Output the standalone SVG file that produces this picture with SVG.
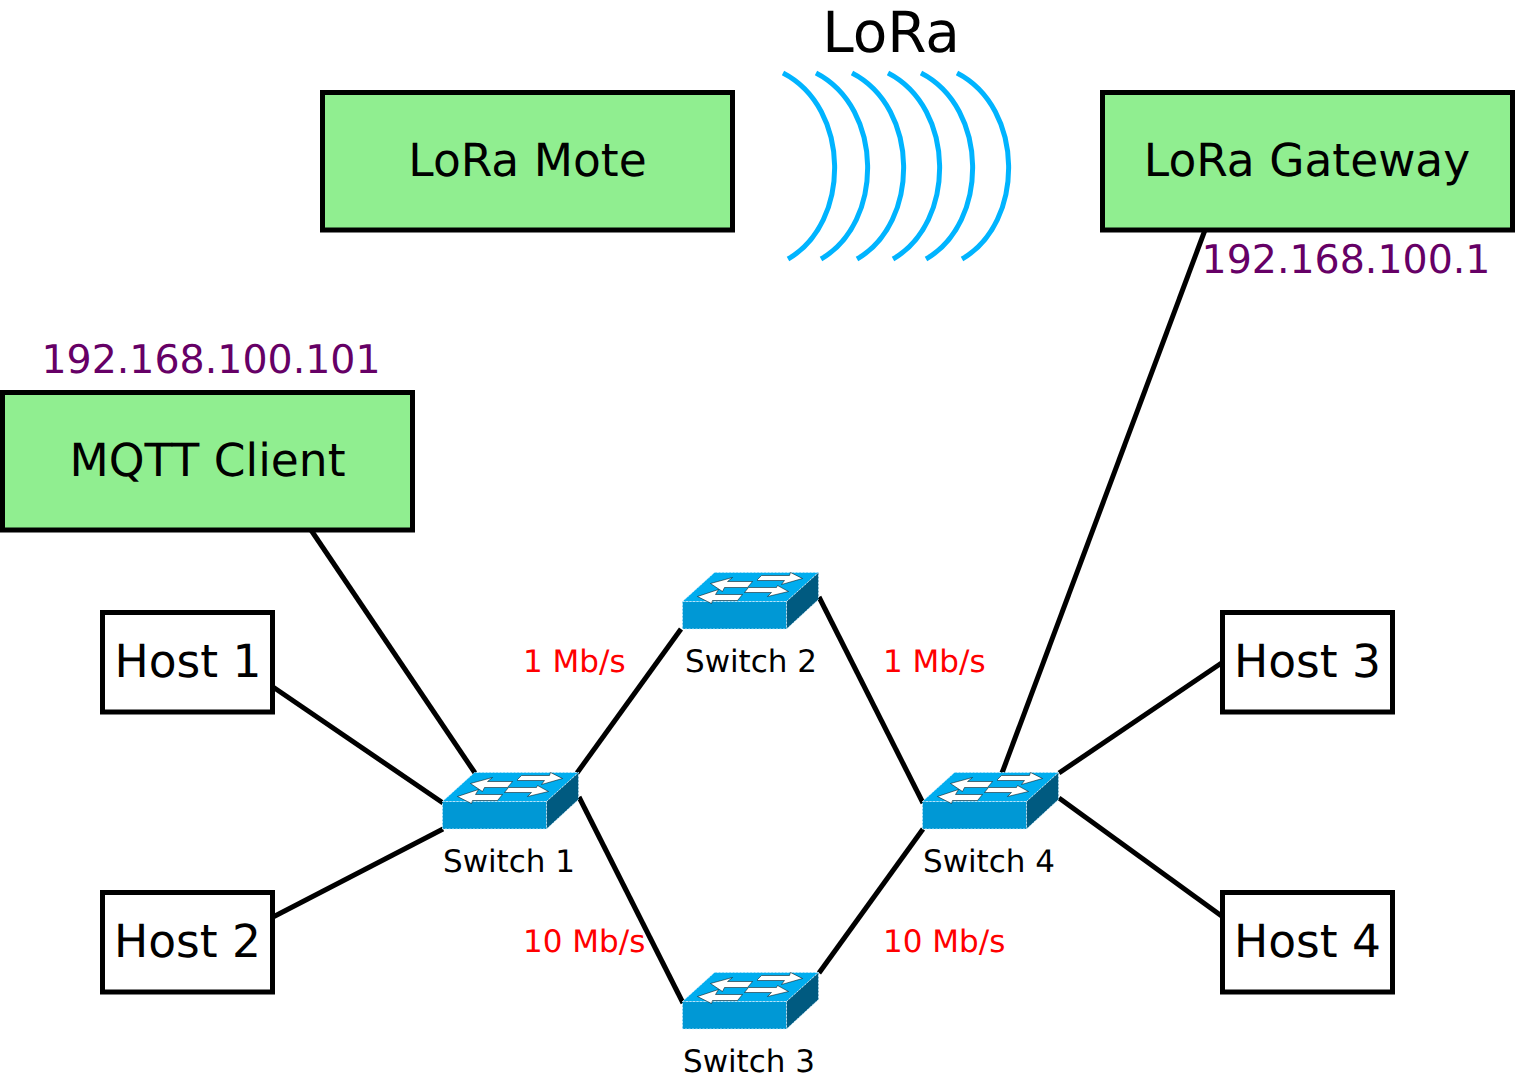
<svg xmlns="http://www.w3.org/2000/svg" width="1515" height="1079" viewBox="0 0 1515 1079">
<style>
text{font-family:"DejaVu Sans",sans-serif;text-anchor:middle;fill:#000;text-rendering:geometricPrecision}
.g{fill:#90ee90;stroke:#000;stroke-width:5}
.w{fill:#fff;stroke:#000;stroke-width:5}
.big{font-size:45.5px}
.ip{font-size:39.5px;fill:#660066}
.sw{font-size:31px}
.rate{font-size:31px;fill:#ff0000;text-anchor:start}
.conn line{stroke:#000;stroke-width:5}
.wave{fill:none;stroke:#00b4ff;stroke-width:5}
.edge{stroke:#cfefff;stroke-width:.8;stroke-dasharray:2 1.5}
</style>
<defs>
<g id="switch">
<polygon points="1,30 33,1 137,1 105,30" fill="#00adef" class="edge"/>
<polygon points="1,30 105,30 105,57.5 1,57.5" fill="#0098d5" class="edge"/>
<polygon points="105,30 137,1 137,28 105,57.5" fill="#005a80" class="edge"/>
<g fill="#fff" stroke="#000" stroke-width=".5">
<polygon points="29,12 51,6 46,10 71,10 66,16 43,16 41,20"/>
<polygon points="76,8 80,4 108,4 109,1 121,7 100,13 103,9 76,9"/>
<polygon points="16,25 37,18 34,23 61,23 56,29 31,29 30,32"/>
<polygon points="63,21 67,16 95,16 96,14 107,20 86,25 90,21"/>
</g>
</g>
<path id="arc" d="M783 73C851 108 851 223 788 259"/>
</defs>
<g class="conn" id="connectors">
<line x1="311" y1="530" x2="475" y2="773"/>
<line x1="273" y1="687" x2="443" y2="803"/>
<line x1="273" y1="917" x2="443" y2="829"/>
<line x1="577" y1="773" x2="681" y2="629"/>
<line x1="579" y1="797" x2="683" y2="1003"/>
<line x1="819" y1="597" x2="923" y2="803"/>
<line x1="819" y1="973" x2="923" y2="829"/>
<line x1="1205" y1="230" x2="1002" y2="773"/>
<line x1="1059" y1="773" x2="1223" y2="662"/>
<line x1="1059" y1="798" x2="1223" y2="917"/>
</g>
<g class="wave" id="lora-waves">
<use href="#arc"/>
<use href="#arc" x="33"/>
<use href="#arc" x="69"/>
<use href="#arc" x="105"/>
<use href="#arc" x="138"/>
<use href="#arc" x="174"/>
</g>
<text id="lora-label" x="891" y="52" font-size="56.5">LoRa</text>
<g id="lora-mote"><rect class="g" x="322.5" y="92.5" width="410" height="137.5"/><text class="big" x="527.5" y="175.5">LoRa Mote</text></g>
<g id="lora-gateway"><rect class="g" x="1102.5" y="92.5" width="410" height="137.5"/><text class="big" x="1307" y="175.5">LoRa Gateway</text></g>
<text id="ip-gateway" class="ip" x="1346" y="272.5">192.168.100.1</text>
<text id="ip-client" class="ip" x="211" y="372.5">192.168.100.101</text>
<g id="mqtt-client"><rect class="g" x="2.5" y="392.5" width="410" height="137.5"/><text class="big" x="207.5" y="475.5">MQTT Client</text></g>
<g id="host1"><rect class="w" x="102.5" y="612.5" width="170" height="99.5"/><text class="big" x="188" y="676.5">Host 1</text></g>
<g id="host2"><rect class="w" x="102.5" y="892.5" width="170" height="99.5"/><text class="big" x="187.5" y="956.5">Host 2</text></g>
<g id="host3"><rect class="w" x="1222.5" y="612.5" width="170" height="99.5"/><text class="big" x="1307.5" y="676.5">Host 3</text></g>
<g id="host4"><rect class="w" x="1222.5" y="892.5" width="170" height="99.5"/><text class="big" x="1307.5" y="956.5">Host 4</text></g>
<g id="switch1"><use href="#switch" x="441.5" y="771.5"/><text class="sw" x="509" y="872">Switch 1</text></g>
<g id="switch2"><use href="#switch" x="681.5" y="571.5"/><text class="sw" x="751" y="672">Switch 2</text></g>
<g id="switch3"><use href="#switch" x="681.5" y="971.5"/><text class="sw" x="749" y="1072">Switch 3</text></g>
<g id="switch4"><use href="#switch" x="921.5" y="771.5"/><text class="sw" x="989" y="872">Switch 4</text></g>
<text class="rate" x="523" y="672">1 Mb/s</text>
<text class="rate" x="883" y="672">1 Mb/s</text>
<text class="rate" x="523" y="952">10 Mb/s</text>
<text class="rate" x="883" y="952">10 Mb/s</text>
</svg>
